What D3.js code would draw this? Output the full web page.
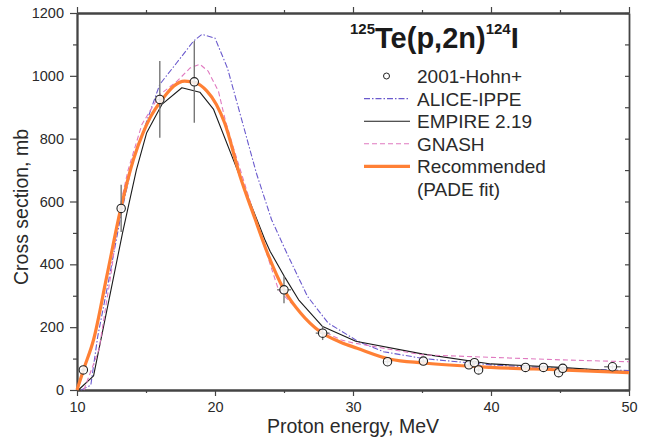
<!DOCTYPE html>
<html>
<head>
<meta charset="utf-8">
<script src="https://cdn.jsdelivr.net/npm/d3@7"></script>
<style>
  body { margin: 0; background: #fff; }
  svg { font-family: "Liberation Sans", Arial, sans-serif; }
</style>
</head>
<body>
<svg id="chart" width="646" height="441"></svg>
<script>
// 2001-Hohn+ measurements
const hohnE   = [10.46, 13.2, 16.0, 18.5, 25.0, 27.8, 32.5, 35.1, 38.4, 38.8, 39.1, 42.5, 43.8, 44.9, 45.2, 48.8];
const hohnXS  = [64, 578, 925, 981, 319, 181, 90, 92, 80, 87, 64, 72, 72, 55, 69, 74];
const hohnDXS = [8, 75, 122, 130, 43, 22, 10, 8, 8, 8, 8, 8, 8, 8, 8, 8];
const hohnDE  = [0.2, 0.2, 0.2, 0.2, 0.5, 0.5, 0.3, 0.3, 0.3, 0.3, 0.3, 0.3, 0.3, 0.3, 0.3, 0.6];

// model calculations
const aliceE  = [10.3, 11.0, 11.5, 12.3, 13.2, 14.0, 14.8, 16.0, 17.2, 18.45, 19.05, 20.0, 20.9, 22.0, 23.0, 24.1, 25.2, 26.7, 28.2, 30.4, 32.2, 35.1, 40.0, 45.0, 50.0];
const aliceXS = [0, 15, 170, 350, 560, 720, 824, 973, 1040, 1111, 1132, 1120, 1025, 850, 690, 542, 436, 298, 213, 154, 122, 100, 80, 68, 62];

const empireE  = [10.1, 11.2, 13.3, 14.3, 15.05, 16.15, 17.6, 18.9, 19.9, 21.8, 23.6, 24.0, 25.1, 26.06, 27.8, 30.2, 35.0, 40.0, 45.0, 50.0];
const empireXS = [0, 45, 500, 700, 819, 909, 962, 948, 893, 680, 480, 441, 356, 287, 202, 155, 115, 83, 72, 58];

const gnashE  = [10.5, 11.6, 12.5, 13.07, 13.7, 14.7, 16.0, 17.25, 18.2, 18.9, 19.5, 20.25, 20.74, 21.3, 23.3, 24.6, 27.15, 29.1, 30.0, 35.0, 40.0, 45.0, 50.0];
const gnashXS = [0, 130, 380, 574, 700, 845, 940, 983, 1025, 1037, 1015, 951, 860, 776, 494, 319, 202, 160, 150, 112, 104, 96, 90];

const recE  = [10.0, 10.5, 11.2, 12.15, 13.17, 14.1, 14.8, 15.3, 16.26, 17.0, 17.8, 18.6, 19.4, 20.1, 20.7, 21.8, 22.9, 23.8, 25.0, 26.2, 27.6, 29.1, 30.3, 32.7, 35.1, 40.0, 45.0, 50.0];
const recXS = [0, 68, 160, 360, 577, 735, 820, 867, 930, 967, 983, 978, 952, 909, 850, 683, 545, 436, 319, 245, 186, 152, 133, 98, 86, 72, 64, 55];

const xMajor = [10, 20, 30, 40, 50];
const xMinor = [15, 25, 35, 45];
const yMajor = [0, 200, 400, 600, 800, 1000, 1200];
const yMinor = [100, 300, 500, 700, 900, 1100];

const legendItems = ["2001-Hohn+", "ALICE-IPPE", "EMPIRE 2.19", "GNASH", "Recommended"];

const svg = d3.select("#chart");
const plotL = 77, plotR = 629, plotT = 13, plotB = 390;
const x = d3.scaleLinear().domain([10, 50]).range([plotL, plotR]);
const y = d3.scaleLinear().domain([0, 1200]).range([plotB, plotT]);

const axisColor = "#444";
const textColor = "#2a2a2a";

function styleAxis(g) {
  g.selectAll("path").attr("stroke", axisColor).attr("stroke-width", 1.8);
  g.selectAll("line").attr("stroke", axisColor).attr("stroke-width", 1.2);
  g.selectAll("text").attr("fill", textColor).attr("font-size", 14.5)
    .attr("font-family", "'Liberation Sans', Arial, sans-serif");
}

// bottom axis
svg.append("g").attr("transform", `translate(0,${plotB})`)
  .call(d3.axisBottom(x).tickValues(xMajor).tickSize(6).tickPadding(6).tickSizeOuter(0).tickFormat(d3.format("d")))
  .call(styleAxis);
svg.append("g").attr("transform", `translate(0,${plotB})`)
  .call(d3.axisBottom(x).tickValues(xMinor).tickSize(3).tickFormat("").tickSizeOuter(0))
  .call(styleAxis);
// top axis
svg.append("g").attr("transform", `translate(0,${plotT})`)
  .call(d3.axisTop(x).tickValues(xMajor).tickSize(6).tickFormat("").tickSizeOuter(0))
  .call(styleAxis);
svg.append("g").attr("transform", `translate(0,${plotT})`)
  .call(d3.axisTop(x).tickValues(xMinor).tickSize(3).tickFormat("").tickSizeOuter(0))
  .call(styleAxis);
// left axis
svg.append("g").attr("transform", `translate(${plotL},0)`)
  .call(d3.axisLeft(y).tickValues(yMajor).tickSize(7).tickPadding(6).tickSizeOuter(0).tickFormat(d3.format("d")))
  .call(styleAxis);
svg.append("g").attr("transform", `translate(${plotL},0)`)
  .call(d3.axisLeft(y).tickValues(yMinor).tickSize(4).tickFormat("").tickSizeOuter(0))
  .call(styleAxis);
// right axis, ticks pointing in
svg.append("g").attr("transform", `translate(${plotR},0)`)
  .call(d3.axisRight(y).tickValues(yMajor.concat(yMinor)).tickSize(-4).tickFormat("").tickSizeOuter(0))
  .call(styleAxis);

// axis titles
svg.append("text")
  .attr("x", (plotL + plotR) / 2).attr("y", 433)
  .attr("text-anchor", "middle").attr("font-size", 19.5).attr("fill", textColor)
  .text("Proton energy, MeV");
svg.append("text")
  .attr("transform", "translate(28,207) rotate(-90)")
  .attr("text-anchor", "middle").attr("font-size", 19.5).attr("fill", textColor)
  .text("Cross section, mb");

// curves
const line = d3.line().x(d => x(d[0])).y(d => y(d[1]));
const smooth = d3.line().x(d => x(d[0])).y(d => y(d[1])).curve(d3.curveMonotoneX);

const series = [
  { e: aliceE, v: aliceXS, color: "#6a5acd", width: 1.1, dash: "6,2,1.5,2", gen: line },
  { e: empireE, v: empireXS, color: "#1a1a1a", width: 1.1, dash: null, gen: line },
  { e: gnashE, v: gnashXS, color: "#e07ac0", width: 1.1, dash: "5,3", gen: line },
  { e: recE, v: recXS, color: "#ff8035", width: 3.2, dash: null, gen: smooth }
];

series.forEach(s => {
  svg.append("path")
    .datum(s.e.map((e, i) => [e, s.v[i]]))
    .attr("fill", "none")
    .attr("stroke", s.color)
    .attr("stroke-width", s.width)
    .attr("stroke-dasharray", s.dash)
    .attr("stroke-linejoin", "round")
    .attr("d", s.gen);
});

// measured points with error bars
const pts = hohnE.map((e, i) => ({ e: e, v: hohnXS[i], dv: hohnDXS[i], de: hohnDE[i] }));
const errs = svg.append("g").attr("stroke", "#777").attr("stroke-width", 1.4);
errs.selectAll(".ev").data(pts).join("line")
  .attr("x1", d => x(d.e)).attr("x2", d => x(d.e))
  .attr("y1", d => y(d.v + d.dv)).attr("y2", d => y(d.v - d.dv));
errs.selectAll(".eh").data(pts).join("line")
  .attr("x1", d => x(d.e - d.de)).attr("x2", d => x(d.e + d.de))
  .attr("y1", d => y(d.v)).attr("y2", d => y(d.v));
svg.append("g").selectAll("circle").data(pts).join("circle")
  .attr("cx", d => x(d.e)).attr("cy", d => y(d.v)).attr("r", 4.2)
  .attr("fill", "#fff").attr("fill-opacity", 0.85)
  .attr("stroke", "#222").attr("stroke-width", 1.1);

// title
const title = svg.append("text")
  .attr("x", 350).attr("y", 48)
  .attr("font-weight", "bold").attr("fill", "#1a1a1a");
title.append("tspan").attr("font-size", 15).attr("dy", -14).text("125");
title.append("tspan").attr("font-size", 29).attr("dy", 14).text("Te(p,2n)");
title.append("tspan").attr("font-size", 15).attr("dy", -14).text("124");
title.append("tspan").attr("font-size", 29).attr("dy", 14).text("I");

// legend
const legX = 417, legY0 = 83, legStep = 22.6;
const leg = svg.append("g");
legendItems.forEach((name, i) => {
  leg.append("text")
    .attr("x", legX).attr("y", legY0 + i * legStep)
    .attr("font-size", 19).attr("fill", textColor)
    .text(name);
});
leg.append("text")
  .attr("x", legX).attr("y", legY0 + 5 * legStep)
  .attr("font-size", 19).attr("fill", textColor)
  .text("(PADE fit)");

leg.append("circle")
  .attr("cx", 386.5).attr("cy", legY0 - 7).attr("r", 3)
  .attr("fill", "none").attr("stroke", "#222").attr("stroke-width", 1);
series.forEach((s, i) => {
  const yy = legY0 + (i + 1) * legStep - 7;
  leg.append("line")
    .attr("x1", 364).attr("x2", 410).attr("y1", yy).attr("y2", yy)
    .attr("stroke", s.color).attr("stroke-width", s.width)
    .attr("stroke-dasharray", s.dash);
});
</script>
</body>
</html>
